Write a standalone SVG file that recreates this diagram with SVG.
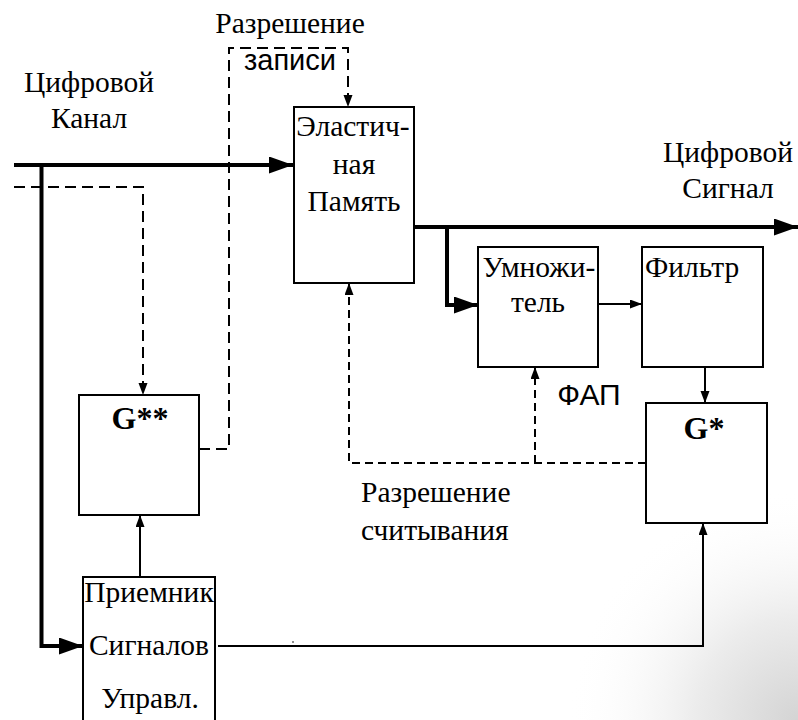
<svg xmlns="http://www.w3.org/2000/svg" width="798" height="720" viewBox="0 0 798 720">
<defs>
<radialGradient id="shade" cx="798" cy="720" r="230" gradientUnits="userSpaceOnUse">
<stop offset="0" stop-color="#d4d4d4"/>
<stop offset="0.45" stop-color="#ececec"/>
<stop offset="1" stop-color="#ffffff" stop-opacity="0"/>
</radialGradient>
<marker id="big" markerUnits="userSpaceOnUse" markerWidth="26" markerHeight="18" refX="24" refY="8.5" orient="auto">
<path d="M0,0 L24,8.5 L0,17 z" fill="#000"/>
</marker>
<marker id="small" markerUnits="userSpaceOnUse" markerWidth="13" markerHeight="10" refX="12" refY="4.5" orient="auto">
<path d="M0,0 L12,4.5 L0,9 z" fill="#000"/>
</marker>
<style>
.box{fill:#fff;stroke:#000;stroke-width:2}
.thick{fill:none;stroke:#000;stroke-width:4;marker-end:url(#big)}
.thin{fill:none;stroke:#000;stroke-width:2;marker-end:url(#small)}
.dash{fill:none;stroke:#000;stroke-width:2;stroke-dasharray:11 6;marker-end:url(#small)}
.dash2{fill:none;stroke:#000;stroke-width:2;stroke-dasharray:8 5;marker-end:url(#small)}
text{fill:#000}
</style>
</defs>
<rect x="0" y="0" width="798" height="720" fill="#fff"/>
<rect x="560" y="480" width="238" height="240" fill="url(#shade)"/>

<g id="connectors">
<path class="thick" d="M14,165 H293"/>
<path class="thick" d="M41.5,163 V646 H83"/>
<path class="dash" d="M14,187 H143 V395"/>
<path class="dash" d="M199,449 H229 V48 H348 V107"/>
<path class="thick" d="M414,227 H798"/>
<path class="thick" d="M447,227 V305 H478"/>
<path class="thin" d="M598,304 H642"/>
<path class="thin" d="M705,367 V403"/>
<path class="dash2" d="M646,463 H349 V283"/>
<path class="dash2" d="M535,463 V367"/>
<path class="thin" d="M140,577 V515"/>
<path class="thin" d="M218,646 H703 V523"/>
<circle cx="293" cy="642" r="0.8" fill="#000"/>
</g>

<g id="labels" font-family="Liberation Serif, Times New Roman, DejaVu Serif, serif" font-size="29.5">
<text x="89" y="92" text-anchor="middle">Цифровой</text>
<text x="89" y="128" text-anchor="middle">Канал</text>
<text x="290" y="33" text-anchor="middle">Разрешение</text>
<text x="290" y="70" text-anchor="middle" font-family="Liberation Sans, Arial, sans-serif" font-size="29">записи</text>
<text x="728" y="162" text-anchor="middle">Цифровой</text>
<text x="728" y="198" text-anchor="middle">Сигнал</text>
<text x="589" y="405" text-anchor="middle" font-family="Liberation Sans, Arial, sans-serif" font-size="30">ФАП</text>
<text x="361" y="502">Разрешение</text>
<text x="361" y="540">считывания</text>
</g>

<g id="elastic" font-family="Liberation Serif, Times New Roman, DejaVu Serif, serif" font-size="29.5">
<rect class="box" x="294" y="107" width="120" height="176"/>
<text x="353" y="136" text-anchor="middle">Эластич-</text>
<text x="354" y="174" text-anchor="middle">ная</text>
<text x="354" y="211" text-anchor="middle">Память</text>
</g>

<g id="multiplier" font-family="Liberation Serif, Times New Roman, DejaVu Serif, serif" font-size="29.5">
<rect class="box" x="478" y="247" width="120" height="120"/>
<text x="539" y="277" text-anchor="middle">Умножи-</text>
<text x="538" y="312" text-anchor="middle">тель</text>
</g>

<g id="filter" font-family="Liberation Serif, Times New Roman, DejaVu Serif, serif" font-size="29.5">
<rect class="box" x="642" y="247" width="121" height="120"/>
<text x="645" y="277">Фильтр</text>
</g>

<g id="gstar" font-family="Liberation Serif, Times New Roman, DejaVu Serif, serif" font-size="32" font-weight="bold">
<rect class="box" x="646" y="403" width="121" height="120"/>
<text x="704" y="439" text-anchor="middle">G*</text>
</g>

<g id="gstarstar" font-family="Liberation Serif, Times New Roman, DejaVu Serif, serif" font-size="32" font-weight="bold">
<rect class="box" x="79" y="395" width="120" height="120"/>
<text x="140" y="429" text-anchor="middle">G**</text>
</g>

<g id="receiver" font-family="Liberation Serif, Times New Roman, DejaVu Serif, serif" font-size="29.5">
<rect class="box" x="83" y="577" width="132" height="150"/>
<text x="149" y="602" text-anchor="middle">Приемник</text>
<text x="149" y="655" text-anchor="middle">Сигналов</text>
<text x="150" y="708" text-anchor="middle">Управл.</text>
</g>
</svg>
